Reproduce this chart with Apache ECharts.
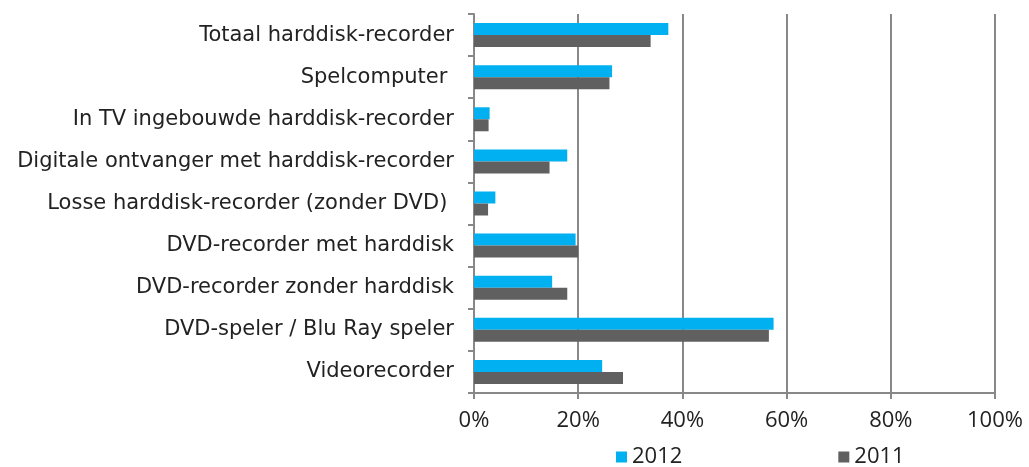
<!DOCTYPE html>
<html>
<head>
<meta charset="utf-8">
<script src="https://cdn.jsdelivr.net/npm/echarts@6/dist/echarts.min.js"></script>
<style>
  html, body { margin: 0; padding: 0; background: #fff; }
  #chart { width: 1029px; height: 467px; }
</style>
</head>
<body>
<div id="chart"></div>
<script>
// categories, top to bottom
const categories = [
  "Totaal harddisk-recorder",
  "Spelcomputer ",
  "In TV ingebouwde harddisk-recorder",
  "Digitale ontvanger met harddisk-recorder",
  "Losse harddisk-recorder (zonder DVD) ",
  "DVD-recorder met harddisk",
  "DVD-recorder zonder harddisk",
  "DVD-speler / Blu Ray speler",
  "Videorecorder"
];
const values2012 = [37.3, 26.5, 3.0, 17.9, 4.1, 19.5, 15.0, 57.5, 24.6];
const values2011 = [33.9, 26.0, 2.8, 14.5, 2.7, 20.0, 17.9, 56.6, 28.6];
const xTicks = [0, 20, 40, 60, 80, 100];

const axisGray = "#888888";
const chart = echarts.init(document.getElementById("chart"));
chart.setOption({
  animation: false,
  grid: { left: 474, right: 34, top: 14, bottom: 74 },
  legend: {
    top: 441,
    left: 611,
    itemGap: 156,
    itemWidth: 11,
    itemHeight: 11,
    icon: "rect",
    textStyle: { fontFamily: "'Open Sans'", fontSize: 22, color: "#222" },
    data: ["2012", "2011"]
  },
  xAxis: {
    type: "value",
    min: xTicks[0],
    max: xTicks[xTicks.length - 1],
    interval: 20,
    axisLine: { show: true, lineStyle: { color: axisGray, width: 2 } },
    axisTick: { show: true, length: 6, lineStyle: { color: axisGray, width: 2 } },
    splitLine: { show: true, lineStyle: { color: axisGray, width: 2 } },
    axisLabel: {
      formatter: "{value}%",
      fontFamily: "'Open Sans'",
      fontSize: 22,
      color: "#222",
      margin: 17
    }
  },
  yAxis: {
    type: "category",
    inverse: true,
    data: categories,
    axisLine: { show: true, lineStyle: { color: axisGray, width: 2 } },
    axisTick: { show: true, length: 6, lineStyle: { color: axisGray, width: 2 } },
    axisLabel: {
      fontFamily: "'DejaVu Sans'",
      fontSize: 21,
      color: "#222",
      margin: 20
    }
  },
  series: [
    {
      name: "2012",
      type: "bar",
      data: values2012,
      barWidth: 12,
      barGap: "0%",
      itemStyle: { color: "#00B0F0" }
    },
    {
      name: "2011",
      type: "bar",
      data: values2011,
      barWidth: 12,
      barGap: "0%",
      itemStyle: { color: "#606060" }
    }
  ]
});
</script>
</body>
</html>
